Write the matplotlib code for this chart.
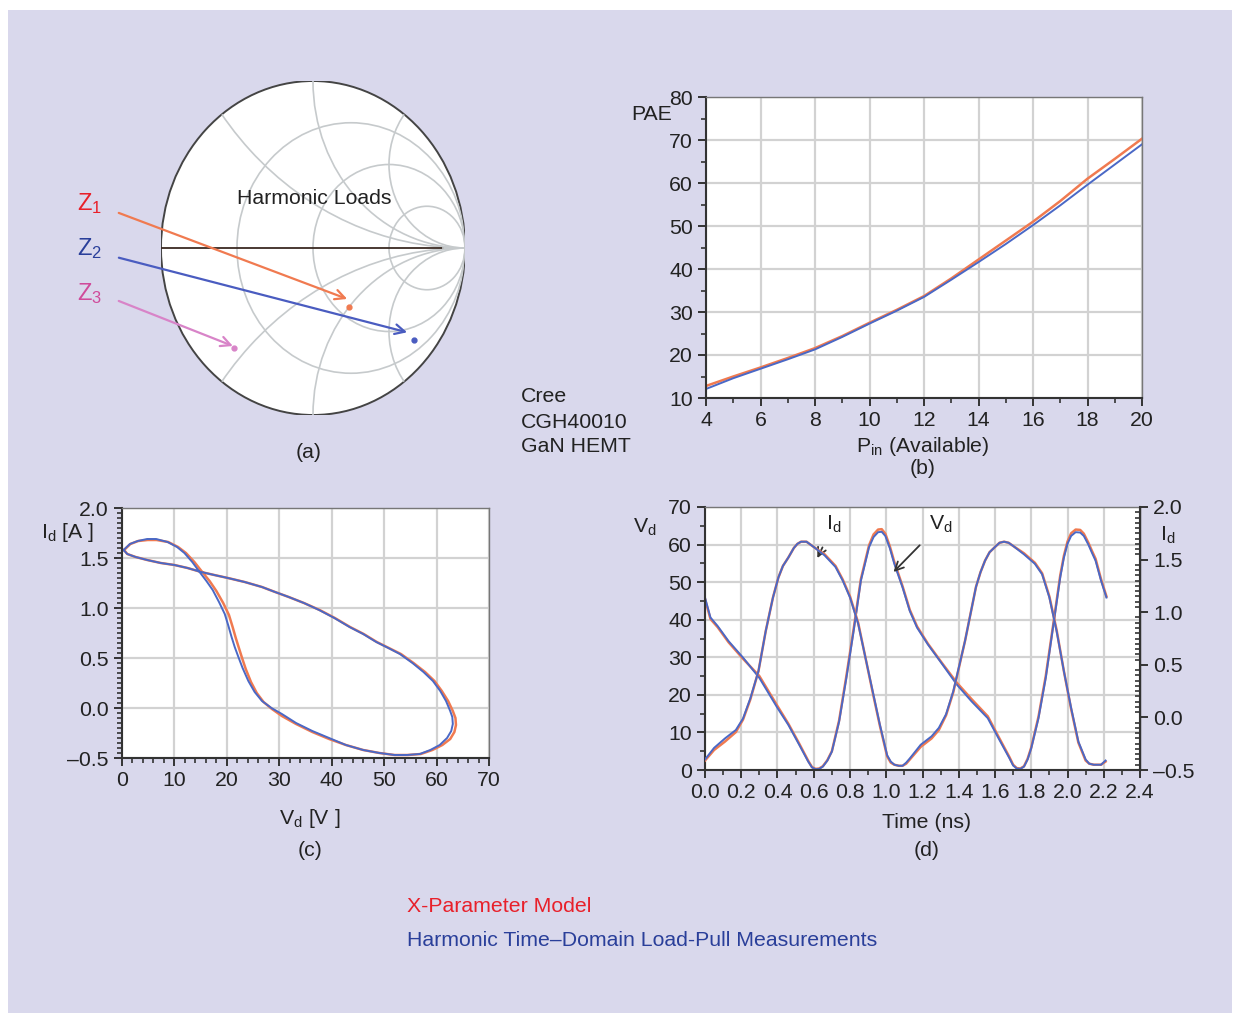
import numpy as np
import matplotlib
matplotlib.use("Agg")
import matplotlib.pyplot as plt
from matplotlib.patches import Circle, Rectangle
from matplotlib.ticker import MultipleLocator, FuncFormatter

plt.rcParams['font.family'] = ['Liberation Sans', 'DejaVu Sans']
plt.rcParams['mathtext.default'] = 'regular'

# ---- datos ----
# (a) cargas armonicas (coef. de reflexion)
load_names = ['Z1', 'Z2', 'Z3']
load_re = [0.235, 0.664, -0.523]
load_im = [-0.353, -0.551, -0.599]
smith_r = [1/3, 1, 3]
smith_x = [0.5, 1, 2, -0.5, -1, -2]

# (b) PAE vs Pin
pin = [4, 5, 6, 7, 8, 9, 10, 11, 12, 13, 14, 15, 16, 17, 18, 19, 20]
pae_meas = [12.1, 14.6, 16.8, 19.0, 21.3, 24.2, 27.3, 30.3, 33.5, 37.5, 41.6, 45.8, 50.2, 54.8, 59.6, 64.3, 69.0]
pae_model = [12.8, 15.0, 17.1, 19.3, 21.6, 24.4, 27.5, 30.5, 33.7, 37.8, 42.2, 46.6, 51.0, 55.8, 61.0, 65.6, 70.3]

# (c) ciclo de carga Id vs Vd
vd_loop_meas = [0.3, 1.5, 3, 4.8, 6.5, 8.7, 10.5, 11.9, 13.4, 14.8, 16.1, 17.3, 18.5, 19.6, 20.3, 20.9, 21.5,
                22.2, 23.0, 24.1, 25.3, 26.7, 28.5, 30.5, 33.2, 36.3, 39.5, 42.7, 46.0, 49.1, 52.0, 54.3, 56.8,
                58.8, 60.6, 62.0, 62.8, 63.1, 63.0, 62.6, 61.8, 60.7, 59.3, 57.5, 55.4, 53.0, 50.8, 48.5, 46.0,
                43.4, 40.5, 37.6, 34.7, 31.8, 29.2, 26.7, 23.4, 20.2, 17.6, 15.1, 12.5, 10.0, 7.4, 4.8, 2.6, 1.0, 0.3]
id_loop_meas = [1.58, 1.64, 1.67, 1.69, 1.69, 1.66, 1.61, 1.55, 1.46, 1.36, 1.27, 1.18, 1.06, 0.94, 0.82, 0.71,
                0.61, 0.51, 0.40, 0.27, 0.16, 0.07, 0.0, -0.06, -0.15, -0.23, -0.30, -0.37, -0.42, -0.45, -0.47,
                -0.47, -0.46, -0.42, -0.37, -0.30, -0.23, -0.16, -0.09, -0.03, 0.07, 0.17, 0.27, 0.36, 0.45, 0.54,
                0.60, 0.66, 0.74, 0.81, 0.90, 0.98, 1.05, 1.11, 1.16, 1.21, 1.26, 1.30, 1.33, 1.36, 1.40, 1.43,
                1.45, 1.48, 1.51, 1.54, 1.58]
vd_loop_model = [0.4, 1.6, 3.1, 4.9, 6.6, 8.8, 10.7, 12.2, 13.8, 15.3, 16.7, 18.0, 19.3, 20.4, 21.1, 21.7, 22.3,
                 22.9, 23.6, 24.6, 25.7, 27.0, 28.6, 30.5, 33.2, 36.3, 39.5, 42.7, 46.0, 49.1, 52.0, 54.5, 57.0,
                 59.2, 61.1, 62.6, 63.4, 63.7, 63.6, 63.1, 62.2, 61.0, 59.6, 57.8, 55.6, 53.2, 50.9, 48.6, 46.1,
                 43.5, 40.6, 37.7, 34.7, 31.8, 29.2, 26.7, 23.4, 20.2, 17.6, 15.1, 12.5, 10.0, 7.4, 4.8, 2.6, 1.0, 0.4]
id_loop_model = [1.58, 1.64, 1.67, 1.68, 1.68, 1.66, 1.61, 1.55, 1.46, 1.36, 1.27, 1.17, 1.05, 0.93, 0.81, 0.70,
                 0.60, 0.50, 0.39, 0.26, 0.15, 0.06, -0.01, -0.08, -0.16, -0.24, -0.31, -0.37, -0.42, -0.45, -0.47,
                 -0.47, -0.46, -0.42, -0.37, -0.31, -0.24, -0.17, -0.10, -0.03, 0.07, 0.17, 0.27, 0.36, 0.45, 0.54,
                 0.60, 0.66, 0.74, 0.81, 0.90, 0.98, 1.05, 1.11, 1.16, 1.21, 1.26, 1.30, 1.33, 1.36, 1.40, 1.43,
                 1.45, 1.48, 1.51, 1.54, 1.58]

# (d) formas de onda en el tiempo
t_vd = [0.0, 0.03, 0.07, 0.13, 0.21, 0.30, 0.40, 0.46, 0.52, 0.57, 0.59, 0.61, 0.63, 0.65, 0.675, 0.70, 0.74,
        0.78, 0.82, 0.86, 0.905, 0.93, 0.955, 0.975, 0.995, 1.02, 1.045, 1.09, 1.13, 1.17, 1.23, 1.31, 1.39,
        1.47, 1.56, 1.62, 1.68, 1.70, 1.72, 1.74, 1.76, 1.78, 1.80, 1.84, 1.88, 1.92, 1.96, 1.98, 2.00, 2.02,
        2.045, 2.07, 2.09, 2.115, 2.135, 2.155, 2.185, 2.215]
vd_meas = [45.9, 40.6, 38.3, 34.3, 29.9, 24.5, 16.5, 12.0, 6.7, 2.2, 0.7, 0.2, 0.3, 0.9, 2.5, 4.9, 12.9,
           24.5, 37.0, 50.4, 59.3, 62.0, 63.3, 63.4, 62.3, 59.0, 54.8, 48.6, 42.3, 37.9, 33.4, 28.1, 22.7,
           18.3, 13.8, 8.4, 3.1, 1.2, 0.4, 0.3, 0.9, 2.8, 5.8, 13.8, 24.5, 37.9, 51.3, 56.5, 60.2, 62.3,
           63.3, 63.2, 62.3, 60.0, 57.8, 55.7, 50.4, 45.9]
vd_model = [45.5, 40.2, 38.0, 34.0, 29.6, 25.0, 17.0, 12.3, 7.0, 2.4, 0.8, 0.3, 0.4, 1.0, 2.6, 5.0, 13.2,
            25.0, 37.5, 50.8, 59.8, 62.7, 64.0, 64.1, 62.9, 59.5, 55.3, 48.9, 42.6, 38.2, 33.6, 28.3, 23.2,
            18.9, 14.3, 8.8, 3.4, 1.4, 0.5, 0.4, 1.0, 3.0, 6.0, 14.2, 25.0, 38.3, 51.8, 57.0, 60.8, 63.0,
            64.0, 63.9, 62.9, 60.5, 58.3, 56.2, 50.8, 46.2]
t_id = [0.0, 0.05, 0.11, 0.17, 0.21, 0.25, 0.295, 0.335, 0.375, 0.405, 0.43, 0.46, 0.49, 0.51, 0.53, 0.56,
        0.60, 0.66, 0.72, 0.76, 0.80, 0.845, 0.885, 0.925, 0.965, 1.005, 1.025, 1.045, 1.07, 1.09, 1.11, 1.13,
        1.19, 1.25, 1.29, 1.33, 1.37, 1.435, 1.495, 1.52, 1.545, 1.57, 1.60, 1.625, 1.65, 1.675, 1.70, 1.76,
        1.82, 1.86, 1.90, 1.94, 1.98, 2.02, 2.06, 2.10, 2.12, 2.145, 2.185, 2.21]
id_meas = [-0.40, -0.29, -0.20, -0.12, -0.01, 0.18, 0.44, 0.82, 1.14, 1.33, 1.44, 1.52, 1.61, 1.65, 1.67, 1.67,
           1.62, 1.54, 1.43, 1.30, 1.14, 0.89, 0.57, 0.25, -0.07, -0.36, -0.42, -0.45, -0.46, -0.46, -0.43,
           -0.39, -0.26, -0.18, -0.10, 0.03, 0.25, 0.73, 1.24, 1.38, 1.49, 1.57, 1.62, 1.66, 1.67, 1.66, 1.63,
           1.55, 1.46, 1.36, 1.14, 0.82, 0.44, 0.09, -0.23, -0.40, -0.44, -0.45, -0.45, -0.41]
id_model = [-0.41, -0.31, -0.23, -0.14, -0.02, 0.17, 0.44, 0.82, 1.14, 1.33, 1.44, 1.52, 1.61, 1.65, 1.67, 1.67,
            1.62, 1.55, 1.44, 1.31, 1.15, 0.90, 0.57, 0.24, -0.08, -0.37, -0.43, -0.45, -0.46, -0.46, -0.44,
            -0.40, -0.28, -0.20, -0.12, 0.02, 0.24, 0.73, 1.24, 1.38, 1.49, 1.57, 1.62, 1.66, 1.67, 1.66, 1.63,
            1.56, 1.47, 1.37, 1.15, 0.83, 0.44, 0.08, -0.24, -0.41, -0.44, -0.45, -0.45, -0.42]

# ---- estilo ----
W, H = 1235, 1015
RED = '#f07a50'
BLUE = '#4a68c6'
BG = '#d9d8ec'
GRID = '#d2d2d2'
FS = 15.3

fig = plt.figure(figsize=(W / 100, H / 100), dpi=100, facecolor='white')
fig.patches.append(Rectangle((8 / W, 1 - 1013 / H), 1224 / W, 1003 / H, transform=fig.transFigure,
                             facecolor=BG, edgecolor='none', zorder=-10))


def px_box(x0, y0, x1, y1):
    return [x0 / W, 1 - y1 / H, (x1 - x0) / W, (y1 - y0) / H]


def px_text(x, y, s, **kw):
    kw.setdefault('fontsize', FS)
    kw.setdefault('color', '#222222')
    kw.setdefault('ha', 'center')
    kw.setdefault('va', 'center')
    fig.text(x / W, 1 - y / H, s, **kw)


# etiquetas con guion largo para los negativos
dash_fmt = FuncFormatter(lambda v, p: ('%.1f' % v).replace('-', '\u2013'))


def style_axes(ax):
    ax.set_facecolor('white')
    ax.set_axisbelow(True)
    ax.grid(True, which='major', color=GRID, lw=1.6)
    for s in ['left', 'bottom']:
        ax.spines[s].set_color('#333333')
        ax.spines[s].set_linewidth(1.5)
    for s in ['top', 'right']:
        ax.spines[s].set_color('#777777')
        ax.spines[s].set_linewidth(1.0)
    ax.tick_params(which='major', length=6, width=1.4, color='#333333', labelsize=FS, labelcolor='#222222')
    ax.tick_params(which='minor', length=3.5, width=1.2, color='#333333')


# ---- (a) carta de Smith ----
ax_a = fig.add_axes(px_box(161, 81, 465, 415))
ax_a.set_xlim(-1, 1)
ax_a.set_ylim(-1, 1)
ax_a.axis('off')
rim = Circle((0, 0), 1, facecolor='white', edgecolor='#444444', lw=1.4, zorder=1)
ax_a.add_patch(rim)
for r in smith_r:
    c = Circle((r / (1 + r), 0), 1 / (1 + r), fill=False, edgecolor='#c6cacc', lw=1.2, zorder=2)
    ax_a.add_patch(c)
    c.set_clip_path(rim)
for xv in smith_x:
    c = Circle((1, 1 / xv), 1 / abs(xv), fill=False, edgecolor='#c6cacc', lw=1.2, zorder=2)
    ax_a.add_patch(c)
    c.set_clip_path(rim)
ax_a.plot([-1, 0.855], [0, 0], color='#3a2a22', lw=1.3, zorder=3)
ax_a.plot([0.855, 1], [0, 0], color='#c6cacc', lw=1.3, zorder=3)

arrow_cols = ['#f07a50', '#4a5cc0', '#d884c8']
label_cols = ['#e8202a', '#2a3f9a', '#d04a9a']
starts = [(-1.295, 0.216), (-1.295, -0.054), (-1.295, -0.311)]
tips = [(0.242, -0.311), (0.637, -0.509), (-0.51, -0.593)]
for i in range(3):
    ax_a.annotate('', xy=tips[i], xytext=starts[i], annotation_clip=False, zorder=5,
                  arrowprops=dict(arrowstyle='->,head_length=0.7,head_width=0.35', color=arrow_cols[i], lw=1.6))
    ax_a.plot(load_re[i], load_im[i], 'o', ms=3.5, color=arrow_cols[i], zorder=6, clip_on=False)
    px_text(90, 204 + i * 45, '$Z_{%d}$' % (i + 1), color=label_cols[i], fontsize=17)
px_text(314, 198, 'Harmonic Loads')
px_text(309, 452, '(a)')

# ---- (b) PAE ----
ax_b = fig.add_axes(px_box(706, 97, 1142, 398))
style_axes(ax_b)
ax_b.plot(pin, pae_model, color=RED, lw=1.8)
ax_b.plot(pin, pae_meas, color=BLUE, lw=1.4)
ax_b.set_xlim(4, 20)
ax_b.set_ylim(10, 80)
ax_b.xaxis.set_major_locator(MultipleLocator(2))
ax_b.xaxis.set_minor_locator(MultipleLocator(1))
ax_b.yaxis.set_major_locator(MultipleLocator(10))
ax_b.yaxis.set_minor_locator(MultipleLocator(5))
px_text(652, 114, 'PAE')
px_text(521, 397, 'Cree', ha='left')
px_text(521, 422, 'CGH40010', ha='left')
px_text(521, 447, 'GaN HEMT', ha='left')
px_text(923, 447, '$P_{in}$ (Available)')
px_text(923, 469, '(b)')

# ---- (c) ciclo de carga ----
ax_c = fig.add_axes(px_box(122, 508, 489, 758))
style_axes(ax_c)
ax_c.plot(vd_loop_model, id_loop_model, color=RED, lw=1.8)
ax_c.plot(vd_loop_meas, id_loop_meas, color=BLUE, lw=1.4)
ax_c.set_xlim(0, 70)
ax_c.set_ylim(-0.5, 2.0)
ax_c.xaxis.set_major_locator(MultipleLocator(10))
ax_c.xaxis.set_minor_locator(MultipleLocator(2))
ax_c.yaxis.set_major_locator(MultipleLocator(0.5))
ax_c.yaxis.set_minor_locator(MultipleLocator(0.05))
ax_c.yaxis.set_major_formatter(dash_fmt)
px_text(68, 533, '$I_d$ [A ]')
px_text(310, 818, '$V_d$ [V ]')
px_text(310, 851, '(c)')

# ---- (d) formas de onda ----
ax_d = fig.add_axes(px_box(705, 507, 1140, 770))
style_axes(ax_d)
ax_d.spines['right'].set_color('#333333')
ax_d.plot(t_vd, vd_model, color=RED, lw=1.8)
ax_d.plot(t_vd, vd_meas, color=BLUE, lw=1.4)
ax_d.set_xlim(0, 2.4)
ax_d.set_ylim(0, 70)
ax_d.xaxis.set_major_locator(MultipleLocator(0.2))
ax_d.xaxis.set_minor_locator(MultipleLocator(0.1))
ax_d.xaxis.set_major_formatter(dash_fmt)
ax_d.yaxis.set_major_locator(MultipleLocator(10))
ax_d.yaxis.set_minor_locator(MultipleLocator(5))
ax_d2 = ax_d.twinx()
ax_d2.plot(t_id, id_model, color=RED, lw=1.8)
ax_d2.plot(t_id, id_meas, color=BLUE, lw=1.4)
ax_d2.set_ylim(-0.5, 2.0)
ax_d2.yaxis.set_major_locator(MultipleLocator(0.5))
ax_d2.yaxis.set_minor_locator(MultipleLocator(0.05))
ax_d2.yaxis.set_major_formatter(dash_fmt)
ax_d2.tick_params(which='major', length=6, width=1.4, color='#333333', labelsize=FS, labelcolor='#222222')
ax_d2.tick_params(which='minor', length=3.5, width=1.2, color='#333333', direction='in')
for s in ax_d2.spines.values():
    s.set_visible(False)
ax_d2.spines['right'].set_visible(True)
ax_d2.spines['right'].set_color('#333333')
ax_d2.spines['right'].set_linewidth(1.5)

ax_d.annotate('$I_d$', xy=(0.62, 56.4), xytext=(0.71, 65.5), ha='center', va='center', fontsize=FS,
              color='#222222', arrowprops=dict(arrowstyle='->', color='#333333', lw=1.3, shrinkA=8, shrinkB=0))
ax_d.annotate('$V_d$', xy=(1.04, 52.7), xytext=(1.30, 65.5), ha='center', va='center', fontsize=FS,
              color='#222222', arrowprops=dict(arrowstyle='->', color='#333333', lw=1.3, shrinkA=8, shrinkB=0))
px_text(645, 527, '$V_d$')
px_text(1168, 535, '$I_d$')
px_text(927, 822, 'Time (ns)')
px_text(927, 850, '(d)')

# ---- leyenda ----
px_text(407, 906, 'X-Parameter Model', ha='left', color='#e8202a')
px_text(407, 940, 'Harmonic Time\u2013Domain Load-Pull Measurements', ha='left', color='#2a3f9a')

fig.savefig('out.png', dpi=100, facecolor=fig.get_facecolor())
